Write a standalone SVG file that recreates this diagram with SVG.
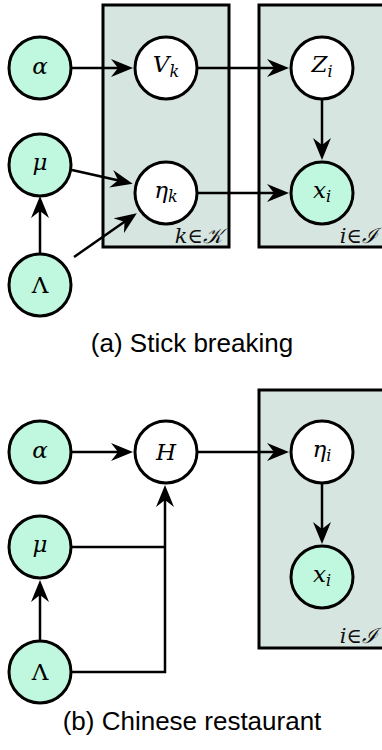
<svg xmlns="http://www.w3.org/2000/svg" width="382" height="750" viewBox="0 0 382 750">
<style>
.plate{fill:#d7e5e1;stroke:#000;stroke-width:3}
.obs{fill:#bff7df;stroke:#000;stroke-width:3}
.lat{fill:#fff;stroke:#000;stroke-width:3}
.m{font-family:"DejaVu Serif","Liberation Serif",serif;font-style:italic;font-size:23px;text-anchor:middle;fill:#000}
.up{font-style:normal}
.sub{font-size:16px}
.pl{font-family:"DejaVu Serif","Liberation Serif",serif;font-style:italic;font-size:21px;text-anchor:end;fill:#111}
.cap{font-family:"Liberation Sans",Arial,sans-serif;font-size:26px;text-anchor:middle;fill:#000}
.e{fill:none;stroke:#000;stroke-width:2.5}
.a{marker-end:url(#ah)}
</style>
<defs>
<marker id="ah" markerUnits="userSpaceOnUse" viewBox="0 0 22 18" refX="10" refY="9" markerWidth="22" markerHeight="18" orient="auto">
<path d="M0,0 L22,9 L0,18 L7,9 Z" fill="#000"/>
</marker>
</defs>
<g id="plates">
<rect id="plate-k" class="plate" x="103" y="5" width="126" height="242"/>
<rect id="plate-i-a" class="plate" x="259" y="5" width="140" height="242"/>
<rect id="plate-i-b" class="plate" x="259" y="390" width="140" height="258"/>
<text class="pl" x="223" y="243">k∈𝒦</text>
<text class="pl" x="378" y="243">i∈ℐ</text>
<text class="pl" x="378" y="643">i∈ℐ</text>
</g>
<g id="connectors">
<line class="e a" x1="72" y1="68" x2="121" y2="68"/>
<line class="e a" x1="198" y1="68" x2="277" y2="68"/>
<line class="e a" x1="322" y1="100" x2="322" y2="148"/>
<line class="e a" x1="72" y1="170" x2="121" y2="181"/>
<line class="e a" x1="74" y1="257" x2="127" y2="220"/>
<line class="e a" x1="40" y1="253" x2="40" y2="208"/>
<line class="e a" x1="198" y1="193" x2="277" y2="193"/>
<line class="e a" x1="72" y1="452" x2="121" y2="452"/>
<line class="e a" x1="198" y1="452" x2="277" y2="452"/>
<line class="e a" x1="322" y1="484" x2="322" y2="532"/>
<line class="e" x1="72" y1="547" x2="165" y2="547"/>
<polyline class="e a" points="72,672 165,672 165,497"/>
<line class="e a" x1="40" y1="640" x2="40" y2="592"/>
</g>
<g id="alpha-a"><circle class="obs" cx="40" cy="68" r="31"/><text class="m" x="40" y="74">α</text></g>
<g id="Vk"><circle class="lat" cx="166" cy="68" r="31"/><text class="m" x="166" y="72">V<tspan class="sub" dy="5">k</tspan></text></g>
<g id="Zi"><circle class="lat" cx="322" cy="68" r="31"/><text class="m" x="322" y="72">Z<tspan class="sub" dy="5">i</tspan></text></g>
<g id="mu-a"><circle class="obs" cx="40" cy="165" r="31"/><text class="m" x="40" y="170">μ</text></g>
<g id="etak"><circle class="lat" cx="166" cy="193" r="31"/><text class="m" x="166" y="198">η<tspan class="sub" dy="4">k</tspan></text></g>
<g id="xi-a"><circle class="obs" cx="322" cy="193" r="31"/><text class="m" x="322" y="198">x<tspan class="sub" dy="4">i</tspan></text></g>
<g id="Lambda-a"><circle class="obs" cx="40" cy="285" r="31"/><text class="m up" x="40" y="293">Λ</text></g>
<text id="cap-a" class="cap" x="192" y="352">(a) Stick breaking</text>
<g id="alpha-b"><circle class="obs" cx="40" cy="452" r="31"/><text class="m" x="40" y="458">α</text></g>
<g id="H"><circle class="lat" cx="166" cy="452" r="31"/><text class="m" x="166" y="460">H</text></g>
<g id="etai"><circle class="lat" cx="322" cy="452" r="31"/><text class="m" x="322" y="457">η<tspan class="sub" dy="4">i</tspan></text></g>
<g id="mu-b"><circle class="obs" cx="40" cy="547" r="31"/><text class="m" x="40" y="552">μ</text></g>
<g id="xi-b"><circle class="obs" cx="322" cy="577" r="31"/><text class="m" x="322" y="582">x<tspan class="sub" dy="4">i</tspan></text></g>
<g id="Lambda-b"><circle class="obs" cx="40" cy="672" r="31"/><text class="m up" x="40" y="680">Λ</text></g>
<text id="cap-b" class="cap" x="192" y="730">(b) Chinese restaurant</text>
</svg>
